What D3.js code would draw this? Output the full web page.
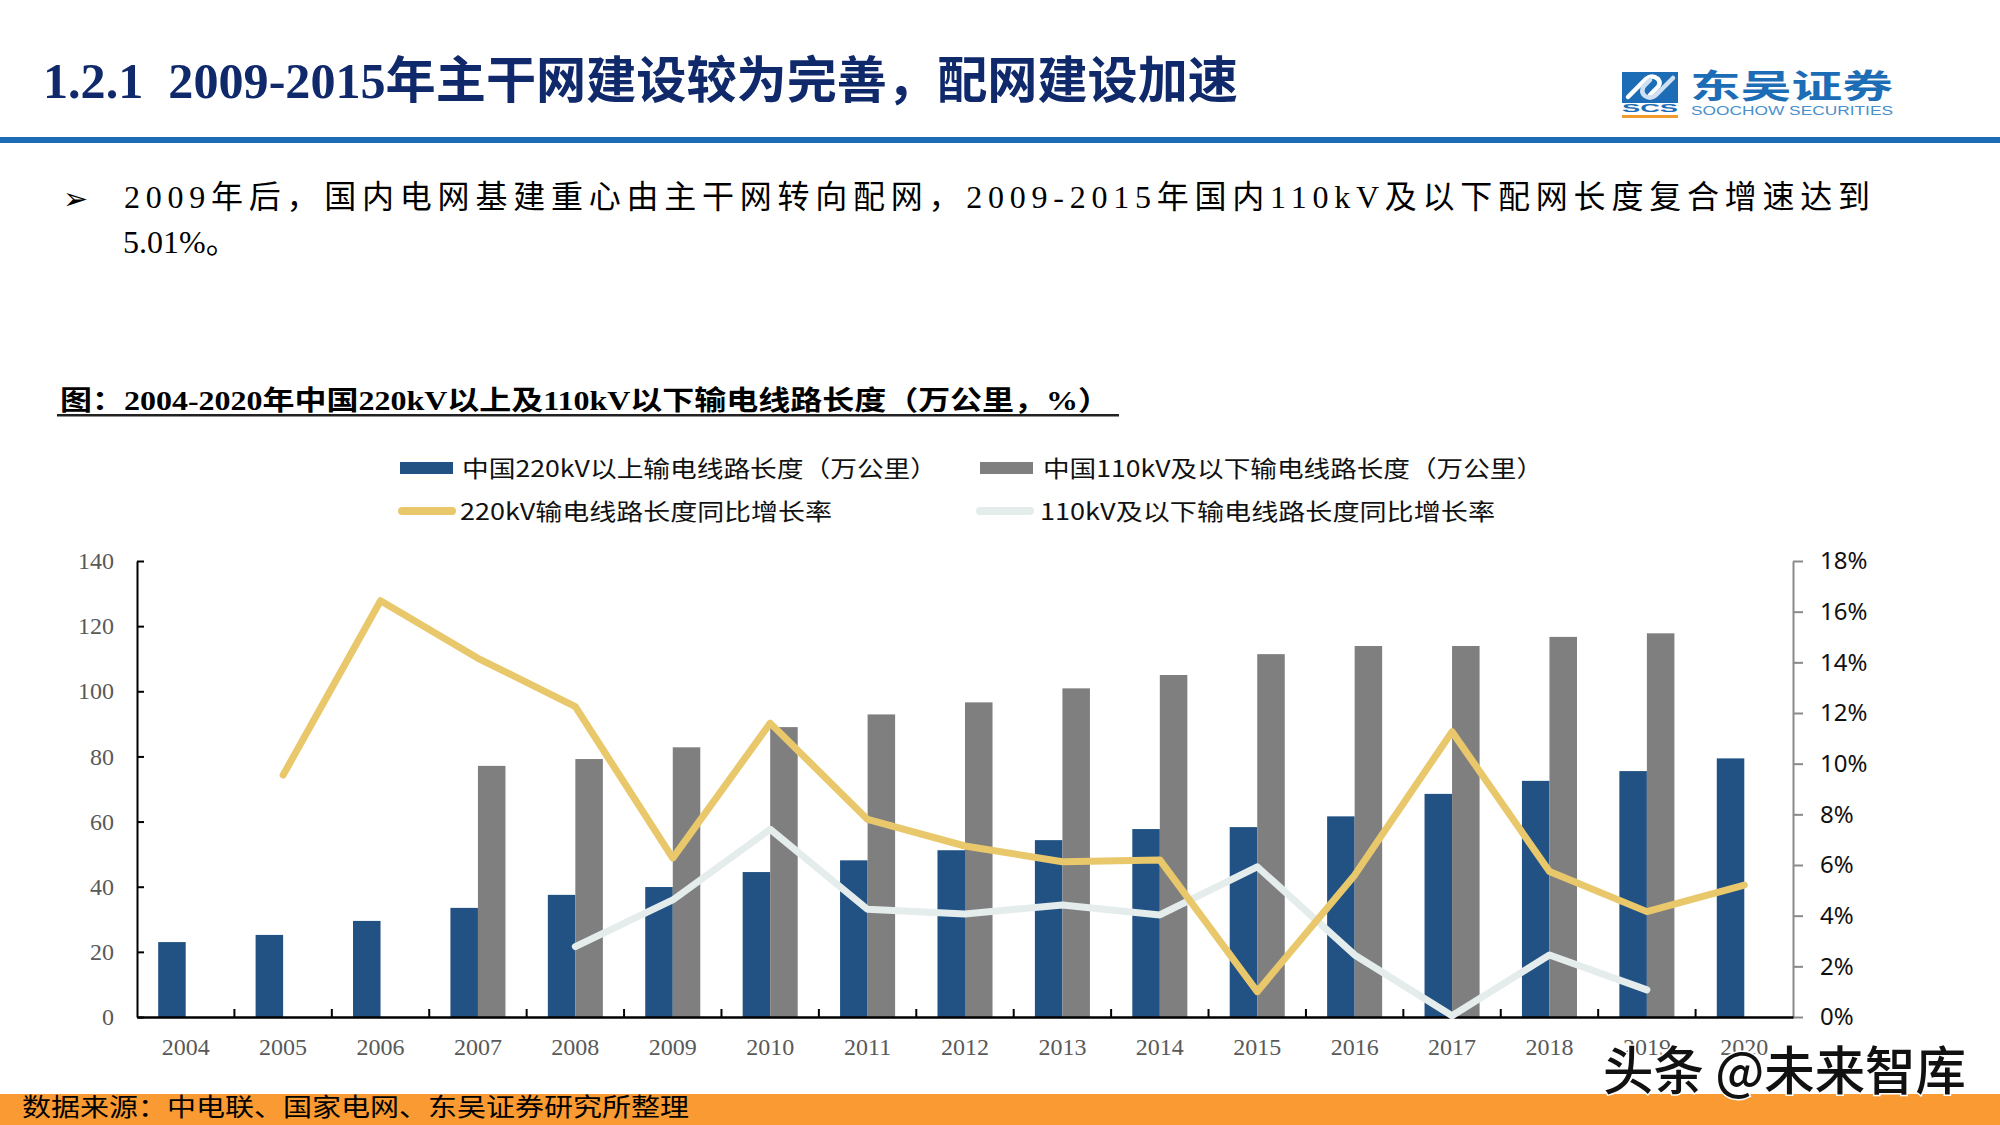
<!DOCTYPE html>
<html><head><meta charset="utf-8">
<script src="https://cdn.jsdelivr.net/npm/d3@7/dist/d3.min.js"></script>
<style>body{margin:0;background:#fff}svg{display:block}</style>
</head><body>
<svg id="c" width="2000" height="1125"></svg>
<script>
// ---- data ----
const years = [2004,2005,2006,2007,2008,2009,2010,2011,2012,2013,2014,2015,2016,2017,2018,2019,2020];
const len220 = [23.0,25.2,29.5,33.5,37.5,39.9,44.5,48.1,51.2,54.3,57.7,58.3,61.6,68.5,72.5,75.5,79.4];
const len110 = [null,null,null,77.1,79.2,82.8,89.0,92.9,96.6,100.9,105.0,111.4,113.9,113.9,116.7,117.8,null];
const growth220 = [null,9.55,16.43,14.16,12.25,6.27,11.6,7.8,6.75,6.13,6.2,1.0,5.6,11.26,5.74,4.16,5.21];
const growth110 = [null,null,null,null,2.78,4.62,7.41,4.25,4.07,4.42,4.03,5.93,2.45,0.05,2.45,1.07,null];
const leftTicks = [0,20,40,60,80,100,120,140];
const rightTicks = [0,2,4,6,8,10,12,14,16,18];
const seriesNames = ["中国220kV以上输电线路长度（万公里）","中国110kV及以下输电线路长度（万公里）","220kV输电线路长度同比增长率","110kV及以下输电线路长度同比增长率"];

const C_BLUE="#215283", C_GREY="#7f7f7f", C_YEL="#E9C86B", C_LIGHT="#E4ECEC";
const SERIF = "'Liberation Serif','Noto Sans CJK SC',serif";
const CJK = "'Noto Sans CJK SC',sans-serif";

const svg = d3.select("#c");

// ---- header ----
svg.append("text").attr("x",43).attr("y",98).style("white-space","pre")
  .attr("font-family",SERIF).attr("font-weight","bold").attr("font-size",50)
  .attr("fill","#10296B").attr("textLength",1195).attr("lengthAdjust","spacingAndGlyphs")
  .text("1.2.1  2009-2015年主干网建设较为完善，配网建设加速");
svg.append("rect").attr("x",0).attr("y",137).attr("width",2000).attr("height",6).attr("fill","#1C6DB6");

// logo
const lg = svg.append("g");
lg.append("rect").attr("x",1622).attr("y",72).attr("width",56).attr("height",31).attr("fill","#1C6DB6");
lg.append("path").attr("d","M1628,97 L1646,79 Q1652,74 1658,79 Q1662,84 1656,89 L1650,95")
  .attr("fill","none").attr("stroke","#fff").attr("stroke-width",4.5).attr("stroke-linecap","round");
lg.append("path").attr("d","M1650,80 L1644,86 Q1640,92 1645,96 Q1651,100 1657,94 L1673,78")
  .attr("fill","none").attr("stroke","#cfe0f2").attr("stroke-width",4.5).attr("stroke-linecap","round");
lg.append("text").attr("x",1622).attr("y",112).attr("font-family","'Liberation Sans',sans-serif")
  .attr("font-weight","bold").attr("font-size",10).attr("fill","#1C6DB6")
  .attr("textLength",56).attr("lengthAdjust","spacingAndGlyphs").text("SCS");
lg.append("rect").attr("x",1622).attr("y",115).attr("width",56).attr("height",3).attr("fill","#F39A2C");
lg.append("text").attr("x",1690).attr("y",98).attr("font-family",CJK).attr("font-weight","bold")
  .attr("font-size",33).attr("fill","#1C6DB6").attr("textLength",203).attr("lengthAdjust","spacingAndGlyphs").text("东吴证券");
lg.append("text").attr("x",1691).attr("y",115).attr("font-family","'Liberation Sans',sans-serif")
  .attr("font-size",12.5).attr("fill","#4A8FCC").attr("textLength",202).attr("lengthAdjust","spacingAndGlyphs").text("SOOCHOW SECURITIES");

// bullet text
svg.append("text").attr("x",63).attr("y",209).attr("font-family","'DejaVu Sans',sans-serif")
  .attr("font-size",30).attr("fill","#000").text("➢");
svg.append("text").attr("x",124).attr("y",208).attr("font-family",SERIF).attr("font-size",32)
  .attr("fill","#000").attr("textLength",1746).attr("lengthAdjust","spacing")
  .text("2009年后，国内电网基建重心由主干网转向配网，2009-2015年国内110kV及以下配网长度复合增速达到");
svg.append("text").attr("x",123).attr("y",253).attr("font-family",SERIF).attr("font-size",32)
  .attr("fill","#000").text("5.01%。");

// caption
svg.append("text").attr("x",60).attr("y",410).attr("font-family",SERIF).attr("font-weight","bold")
  .attr("font-size",27).attr("fill","#000").attr("textLength",1050).attr("lengthAdjust","spacingAndGlyphs")
  .text("图：2004-2020年中国220kV以上及110kV以下输电线路长度（万公里，%）");
svg.append("rect").attr("x",57).attr("y",414).attr("width",1062).attr("height",2.5).attr("fill","#222");

// ---- legend ----
const leg = svg.append("g").attr("font-family",CJK).attr("font-size",23).attr("fill","#111");
leg.append("rect").attr("x",400).attr("y",462).attr("width",53).attr("height",12).attr("fill",C_BLUE);
leg.append("text").attr("x",462).attr("y",477).attr("textLength",475).attr("lengthAdjust","spacingAndGlyphs").text(seriesNames[0]);
leg.append("rect").attr("x",980).attr("y",462).attr("width",53).attr("height",12).attr("fill",C_GREY);
leg.append("text").attr("x",1043).attr("y",477).attr("textLength",500).attr("lengthAdjust","spacingAndGlyphs").text(seriesNames[1]);
leg.append("line").attr("x1",402).attr("x2",452).attr("y1",511).attr("y2",511).attr("stroke",C_YEL).attr("stroke-width",8).attr("stroke-linecap","round");
leg.append("text").attr("x",460).attr("y",520).attr("textLength",372).attr("lengthAdjust","spacingAndGlyphs").text(seriesNames[2]);
leg.append("line").attr("x1",980).attr("x2",1030).attr("y1",511).attr("y2",511).attr("stroke",C_LIGHT).attr("stroke-width",8).attr("stroke-linecap","round");
leg.append("text").attr("x",1040).attr("y",520).attr("textLength",455).attr("lengthAdjust","spacingAndGlyphs").text(seriesNames[3]);

// ---- chart ----
const L=137, R=1793, B=1017, T=561;
const x0 = d3.scaleBand().domain(years).range([L,R]).paddingInner(0.435).paddingOuter(0.2175);
const x1 = d3.scaleBand().domain(["a","b"]).range([0,x0.bandwidth()]);
const yL = d3.scaleLinear().domain([0,140]).range([B,T]);
const yR = d3.scaleLinear().domain([0,18]).range([B,T]);
const cx = d => x0(d) + x0.bandwidth()/2;

const rows = years.map((y,i)=>({y, a:len220[i], b:len110[i], g1:growth220[i], g2:growth110[i]}));

// bars
svg.append("g").selectAll("rect").data(rows).join("rect")
  .attr("x",d=>x0(d.y)+x1("a")).attr("width",x1.bandwidth())
  .attr("y",d=>yL(d.a)).attr("height",d=>B-yL(d.a)).attr("fill",C_BLUE);
svg.append("g").selectAll("rect").data(rows.filter(d=>d.b!=null)).join("rect")
  .attr("x",d=>x0(d.y)+x1("b")).attr("width",x1.bandwidth())
  .attr("y",d=>yL(d.b)).attr("height",d=>B-yL(d.b)).attr("fill",C_GREY);

// axes
const axL = svg.append("g").attr("transform",`translate(${L},0)`)
  .call(d3.axisLeft(yL).tickValues(leftTicks).tickSizeInner(-7).tickSizeOuter(0).tickPadding(23));
axL.select(".domain").attr("stroke","#000").attr("stroke-width",2);
axL.selectAll(".tick line").attr("stroke","#000").attr("stroke-width",2);
axL.selectAll("text").attr("font-family",SERIF).attr("font-size",24).attr("fill","#595959");

const axR = svg.append("g").attr("transform",`translate(${R},0)`)
  .call(d3.axisRight(yR).tickValues(rightTicks).tickFormat(d=>d+"%").tickSizeInner(10).tickSizeOuter(0).tickPadding(17));
axR.select(".domain").attr("stroke","#8a8a8a").attr("stroke-width",2);
axR.selectAll(".tick line").attr("stroke","#8a8a8a").attr("stroke-width",2);
axR.selectAll("text").attr("font-family","'Noto Sans',sans-serif").attr("font-size",24).attr("fill","#111");

const axB = svg.append("g").attr("transform",`translate(0,${B})`)
  .call(d3.axisBottom(x0).tickSize(0).tickPadding(0));
axB.select(".domain").attr("stroke","#000").attr("stroke-width",2.5);
axB.selectAll("text").attr("y",38).attr("dy",null).attr("font-family",SERIF).attr("font-size",24).attr("fill","#595959");
const step = x0.step();
axB.append("g").selectAll("line").data(years.slice(1)).join("line")
  .attr("x1",d=>x0(d)-step*x0.paddingInner()/2).attr("x2",d=>x0(d)-step*x0.paddingInner()/2)
  .attr("y1",0).attr("y2",-8).attr("stroke","#000").attr("stroke-width",2);

// lines
const line1 = d3.line().defined(d=>d.g1!=null).x(d=>cx(d.y)).y(d=>yR(d.g1));
const line2 = d3.line().defined(d=>d.g2!=null).x(d=>cx(d.y)).y(d=>yR(d.g2));
svg.append("path").datum(rows).attr("d",line2).attr("fill","none").attr("stroke",C_LIGHT)
  .attr("stroke-width",7).attr("stroke-linejoin","round").attr("stroke-linecap","round");
svg.append("path").datum(rows).attr("d",line1).attr("fill","none").attr("stroke",C_YEL)
  .attr("stroke-width",7).attr("stroke-linejoin","round").attr("stroke-linecap","round");

// footer
svg.append("rect").attr("x",0).attr("y",1094).attr("width",2000).attr("height",31).attr("fill","#F99A33");
svg.append("text").attr("x",22).attr("y",1116).attr("font-family",SERIF).attr("font-size",25).attr("fill","#000")
  .attr("textLength",667).attr("lengthAdjust","spacingAndGlyphs").text("数据来源：中电联、国家电网、东吴证券研究所整理");

// watermark
svg.append("text").attr("x",1603).attr("y",1090).attr("font-family",CJK).attr("font-weight",500)
  .attr("font-size",52).attr("fill","#111").attr("stroke","#fff").attr("stroke-width",3).attr("paint-order","stroke")
  .attr("textLength",363).attr("lengthAdjust","spacingAndGlyphs").text("头条 @未来智库");
</script>
</body></html>
